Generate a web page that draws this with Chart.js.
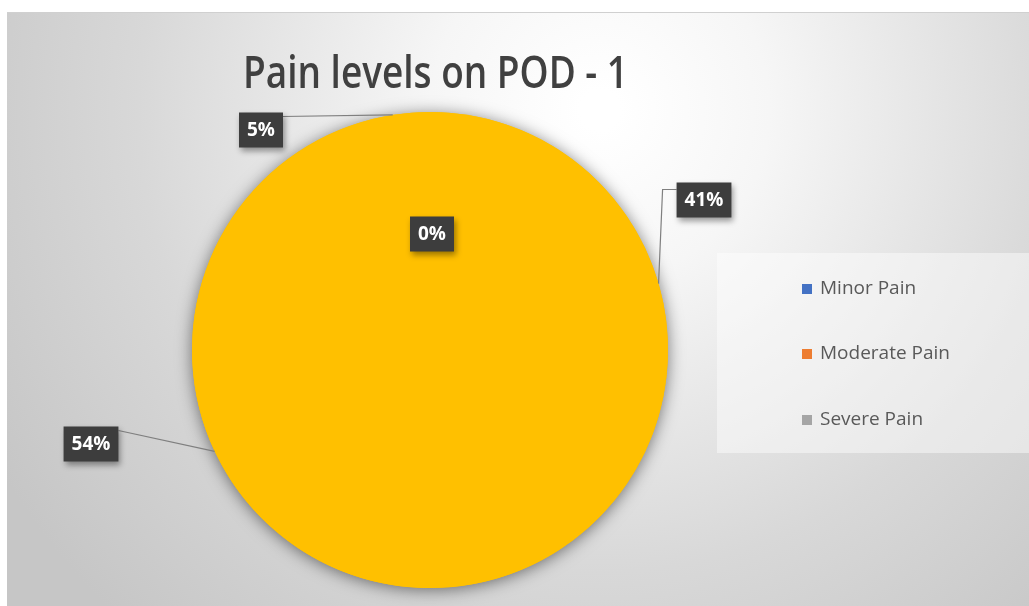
<!DOCTYPE html>
<head>
	<meta charset="utf-8">
	<title>Pain levels on POD - 1</title>
	<script src="https://cdn.jsdelivr.net/npm/chart.js@4.4.1/dist/chart.umd.min.js"></script>
	<style>
		html, body { margin:0; padding:0; background:#fff; }
		#wrap { width:1029px; height:606px; }
	</style>
</head>
<body>
<div id="wrap">
	<canvas id="myChart" width="1029" height="606"></canvas>
</div>
<script type="text/javascript">
	// data
	var chartTitle = "Pain levels on POD - 1";
	var painLabels = ["Minor Pain", "Moderate Pain", "Severe Pain", ""];
	var painValues = [41, 54, 5, 0];
	var legendColors = ["#4472C4", "#ED7D31", "#A5A5A5"];
	var sliceColor = "#FFC000";

	// where Excel put the data label boxes (centre x, y)
	var labelBoxes = [
		{ x: 704, y: 200, line: "elbow" },
		{ x: 91,  y: 444, line: "straight" },
		{ x: 261, y: 130, line: "straight" },
		{ x: 432, y: 234, line: "none" }
	];

	var bgPlugin = {
		id: 'bg',
		beforeDraw: function(chart) {
			var ctx = chart.ctx;
			ctx.save();
			ctx.fillStyle = "#fff";
			ctx.fillRect(0, 0, chart.width, chart.height);
			var g = ctx.createRadialGradient(600, 110, 20, 600, 110, 700);
			g.addColorStop(0, "#ffffff");
			g.addColorStop(0.22, "#f6f6f6");
			g.addColorStop(0.65, "#d8d8d8");
			g.addColorStop(1, "#c6c6c6");
			ctx.fillStyle = g;
			ctx.fillRect(7, 12, chart.width - 7, chart.height - 12);
			ctx.strokeStyle = "#d0d0d0";
			ctx.lineWidth = 1;
			ctx.beginPath();
			ctx.moveTo(7, 12.5);
			ctx.lineTo(chart.width, 12.5);
			ctx.stroke();

			// title
			ctx.font = "600 46px 'Open Sans'";
			ctx.fillStyle = "#404040";
			ctx.textBaseline = "alphabetic";
			var w = ctx.measureText(chartTitle).width;
			ctx.translate(243, 88);
			ctx.scale(385 / w, 1);
			ctx.fillText(chartTitle, 0, 0);
			ctx.restore();

			// legend box
			ctx.save();
			ctx.fillStyle = "rgba(255,255,255,0.45)";
			ctx.fillRect(717, 253, chart.width - 717, 200);
			ctx.font = "19px 'Open Sans'";
			ctx.textBaseline = "middle";
			var ys = [289, 354, 420];
			for (var i = 0; i < legendColors.length; i++) {
				ctx.fillStyle = legendColors[i];
				ctx.fillRect(802, ys[i] - 5, 10, 10);
				ctx.fillStyle = "#595959";
				ctx.fillText(painLabels[i], 820, ys[i]);
			}
			ctx.restore();
		},
		beforeDatasetsDraw: function(chart) {
			var ctx = chart.ctx;
			ctx.save();
			ctx.shadowColor = "rgba(0,0,0,0.5)";
			ctx.shadowBlur = 16;
			ctx.shadowOffsetX = 0;
			ctx.shadowOffsetY = 2;
			var arc = chart.getDatasetMeta(0).data[0];
			ctx.fillStyle = sliceColor;
			ctx.beginPath();
			ctx.arc(arc.x, arc.y, arc.outerRadius, 0, Math.PI * 2);
			ctx.fill();
			ctx.restore();
		},
		afterDatasetsDraw: function(chart) {
			var ctx = chart.ctx;
			var meta = chart.getDatasetMeta(0);
			var total = painValues.reduce(function(a, b) { return a + b; }, 0);
			ctx.save();
			meta.data.forEach(function(arc, i) {
				var p = arc.getProps(['x', 'y', 'startAngle', 'endAngle', 'outerRadius'], true);
				var mid = (p.startAngle + p.endAngle) / 2;
				var ex = p.x + Math.cos(mid) * p.outerRadius;
				var ey = p.y + Math.sin(mid) * p.outerRadius;
				var b = labelBoxes[i];
				var txt = Math.round(painValues[i] / total * 100) + "%";
				ctx.font = "bold 19px 'Open Sans'";
				var tw = ctx.measureText(txt).width;
				var bw = tw + 16, bh = 35;
				var bx = b.x - bw / 2, by = b.y - bh / 2;
				// leader line
				ctx.strokeStyle = "#7f7f7f";
				ctx.lineWidth = 1.2;
				if (b.line == "straight") {
					ctx.beginPath();
					ctx.moveTo(bx + bw, by + 4);
					ctx.lineTo(ex, ey);
					ctx.stroke();
				} else if (b.line == "elbow") {
					ctx.beginPath();
					ctx.moveTo(bx, by + 7);
					ctx.lineTo(bx - 14, by + 7);
					ctx.lineTo(ex, ey);
					ctx.stroke();
				}
				// box
				ctx.save();
				ctx.shadowColor = "rgba(0,0,0,0.4)";
				ctx.shadowBlur = 6;
				ctx.shadowOffsetX = 2;
				ctx.shadowOffsetY = 3;
				ctx.fillStyle = "#3d3d3d";
				ctx.fillRect(bx, by, bw, bh);
				ctx.restore();
				ctx.fillStyle = "#ffffff";
				ctx.textAlign = "center";
				ctx.textBaseline = "middle";
				ctx.fillText(txt, b.x, b.y + 1);
			});
			ctx.restore();
		}
	};

	var ctx = document.getElementById('myChart').getContext('2d');
	var chart = new Chart(ctx, {
		type: 'pie',
		data: {
			labels: painLabels,
			datasets: [{
				data: painValues,
				backgroundColor: sliceColor,
				borderWidth: 0
			}]
		},
		options: {
			responsive: false,
			animation: false,
			layout: { padding: { left: 192, right: 361, top: 112, bottom: 18 } },
			plugins: {
				legend: { display: false },
				title: { display: false },
				tooltip: { enabled: false }
			}
		},
		plugins: [bgPlugin]
	});
</script>
</body>
</html>
